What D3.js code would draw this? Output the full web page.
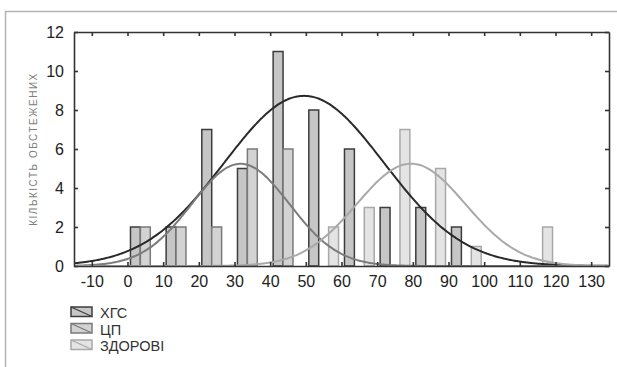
<!DOCTYPE html>
<html>
<head>
<meta charset="utf-8">
<script src="https://cdn.jsdelivr.net/npm/d3@7"></script>
<style>
  html, body { margin: 0; padding: 0; background: #fff; }
  svg { display: block; font-family: "Liberation Sans", Arial, sans-serif; }
</style>
</head>
<body>
<div id="chart"></div>
<script>
// bin lower edges (bin width 10)
const bins = [0, 10, 20, 30, 40, 50, 60, 70, 80, 90, 100, 110];
const seriesNames = ['ХГС', 'ЦП', 'ЗДОРОВІ'];
const hgs = [2, 2, 7, 5, 11, 8, 6, 3, 3, 2, 0, 0];
const cp = [2, 2, 2, 6, 6, 0, 0, 0, 0, 0, 0, 0];
const zdorovi = [0, 0, 0, 0, 0, 2, 3, 7, 5, 1, 0, 2];
// fitted normal curves (mean, sd)
const fitMeans = [49.5, 31.7, 79.5];
const fitSds = [22.4, 13.7, 15.2];
const xTicks = [-10, 0, 10, 20, 30, 40, 50, 60, 70, 80, 90, 100, 110, 120, 130];
const yTicks = [0, 2, 4, 6, 8, 10, 12];
const yTitle = 'КІЛЬКІСТЬ ОБСТЕЖЕНИХ';

const width = 617;
const height = 367;
const margin = { top: 32, right: 8, bottom: 101, left: 74 };
const binWidth = 10;

const fills = ['#c6c6c6', '#d3d3d3', '#e4e4e4'];
const strokes = ['#3c3c3c', '#7a7a7a', '#a8a8a8'];
const curveColors = ['#2a2a2a', '#7c7c7c', '#a9a9a9'];

const counts = [hgs, cp, zdorovi];

const svg = d3.select('#chart')
  .append('svg')
  .attr('width', width)
  .attr('height', height);

// outer frame (top and left only visible)
svg.append('path')
  .attr('d', `M5.5,${height}V11.5H${width}`)
  .attr('fill', 'none')
  .attr('stroke', '#b4b4b4')
  .attr('stroke-width', 1.5);

const x = d3.scaleLinear()
  .domain([-15, 135])
  .range([margin.left, width - margin.right]);

const y = d3.scaleLinear()
  .domain([0, 12])
  .range([height - margin.bottom, margin.top]);

svg.append('clipPath').attr('id', 'plot-clip')
  .append('rect')
  .attr('x', x(-15))
  .attr('y', y(12))
  .attr('width', x(135) - x(-15))
  .attr('height', y(0) - y(12));

// bars
const barData = [];
bins.forEach((b, i) => {
  seriesNames.forEach((s, k) => {
    if (counts[k][i] > 0) barData.push({ bin: b, series: s, k: k, value: counts[k][i] });
  });
});

const slot = d3.scaleBand()
  .domain(seriesNames)
  .range([0, x(binWidth) - x(0)])
  .paddingInner(0)
  .paddingOuter(0.3);

svg.append('g')
  .selectAll('rect')
  .data(barData)
  .join('rect')
  .attr('x', d => x(d.bin) + slot(d.series))
  .attr('y', d => y(d.value))
  .attr('width', slot.bandwidth())
  .attr('height', d => y(0) - y(d.value))
  .attr('fill', d => fills[d.k])
  .attr('stroke', d => strokes[d.k])
  .attr('stroke-width', 1.5);

// fitted normal curves
const xs = d3.range(-15, 135.01, 0.5);
const line = d3.line()
  .x(d => x(d[0]))
  .y(d => y(d[1]))
  .curve(d3.curveBasis);

const curveG = svg.append('g').attr('clip-path', 'url(#plot-clip)');
seriesNames.forEach((s, k) => {
  const n = d3.sum(counts[k]);
  const mu = fitMeans[k];
  const sd = fitSds[k];
  const pts = xs.map(v => [v, n * binWidth / (sd * Math.sqrt(2 * Math.PI)) * Math.exp(-0.5 * ((v - mu) / sd) ** 2)]);
  curveG.append('path')
    .datum(pts)
    .attr('d', line)
    .attr('fill', 'none')
    .attr('stroke', curveColors[k])
    .attr('stroke-width', 2);
});

// axes with inward ticks on all four sides
const tickLen = 4;
const axisStyle = g => {
  g.select('.domain').attr('stroke', '#333').attr('stroke-width', 1.6);
  g.selectAll('.tick line').attr('stroke', '#333').attr('stroke-width', 1.6);
};
const labelStyle = g => g.selectAll('.tick text')
  .attr('font-size', 16)
  .attr('fill', '#222')
  .attr('font-family', '"Liberation Sans", Arial, sans-serif');

svg.append('g')
  .attr('transform', `translate(0,${y(0)})`)
  .call(d3.axisBottom(x).tickValues(xTicks).tickSizeInner(-tickLen).tickSizeOuter(0).tickPadding(10).tickFormat(d => String(d)))
  .call(axisStyle)
  .call(labelStyle);

svg.append('g')
  .attr('transform', `translate(0,${y(12)})`)
  .call(d3.axisTop(x).tickValues(xTicks).tickSizeInner(-tickLen).tickSizeOuter(0).tickFormat(''))
  .call(axisStyle);

svg.append('g')
  .attr('transform', `translate(${x(-15)},0)`)
  .call(d3.axisLeft(y).tickValues(yTicks).tickSizeInner(-tickLen).tickSizeOuter(0).tickPadding(10))
  .call(axisStyle)
  .call(labelStyle);

svg.append('g')
  .attr('transform', `translate(${x(135)},0)`)
  .call(d3.axisRight(y).tickValues(yTicks).tickSizeInner(-tickLen).tickSizeOuter(0).tickFormat(''))
  .call(axisStyle);

// y-axis title
svg.append('text')
  .attr('transform', `translate(37,${(y(0) + y(12)) / 2}) rotate(-90)`)
  .attr('text-anchor', 'middle')
  .attr('font-size', 10)
  .attr('letter-spacing', 1.5)
  .attr('fill', '#808080')
  .text(yTitle);

// legend
const legend = svg.append('g').attr('transform', 'translate(71,307)');
seriesNames.forEach((s, k) => {
  const row = legend.append('g').attr('transform', `translate(0,${k * 16.5})`);
  row.append('rect')
    .attr('width', 21)
    .attr('height', 9.5)
    .attr('fill', fills[k])
    .attr('stroke', strokes[k])
    .attr('stroke-width', 1.5);
  row.append('line')
    .attr('x1', 0).attr('y1', 0)
    .attr('x2', 21).attr('y2', 9.5)
    .attr('stroke', strokes[k])
    .attr('stroke-width', 1.2);
  row.append('text')
    .attr('x', 29)
    .attr('y', 11)
    .attr('font-size', 14.5)
    .attr('fill', '#333')
    .text(s);
});
</script>
</body>
</html>
